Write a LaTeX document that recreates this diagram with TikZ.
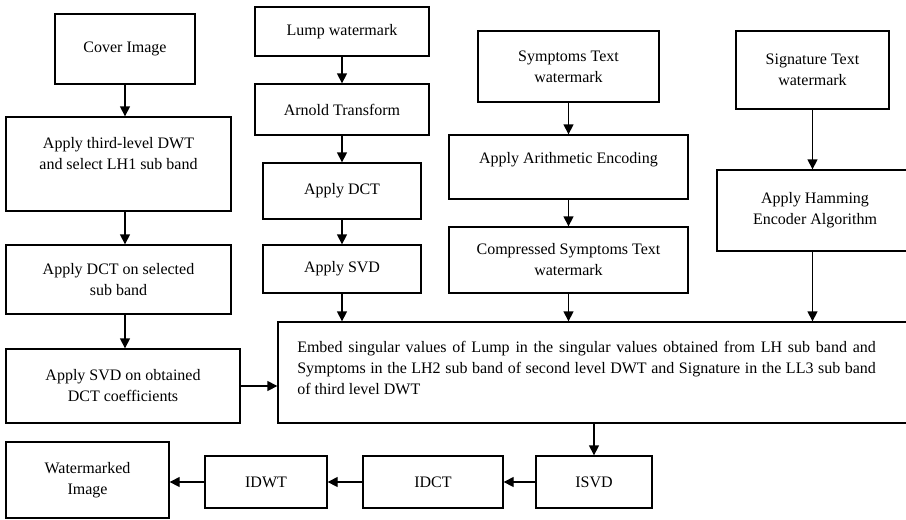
\documentclass[tikz,border=0pt]{standalone}
\usepackage{fontspec}
\setmainfont{Liberation Serif}
\usetikzlibrary{arrows.meta}

\begin{document}
\begin{tikzpicture}[x=0.75pt,y=0.75pt,yscale=-1,xscale=1,
  box/.style={draw, line width=1pt, inner sep=0pt, align=center, font=\fontsize{12}{15.75}\selectfont},
  txt/.style={inner sep=0pt, align=center, font=\fontsize{12}{15.75}\selectfont},
  arr/.style={line width=1pt, -{Triangle[length=7.5pt,width=7.5pt]}}]

\clip (0,0) rectangle (906,519);

% cover image column
\node[box, minimum width=105pt, minimum height=52.5pt] (cover) at (125,49) {Cover Image};
\node[box, minimum width=168.75pt, minimum height=70.5pt] (dwt) at (118.5,164) {};
\node[txt] (dwt-t) at (118.5,154) {Apply third-level DWT\\and select LH1 sub band};
\node[box, minimum width=168.75pt, minimum height=51.75pt] (dctsel) at (118.5,279.5) {Apply DCT on selected\\sub band};
\node[box, minimum width=175.5pt, minimum height=55.5pt] (svdobt) at (123,386) {Apply SVD on obtained\\DCT coefficients};

% lump watermark column
\node[box, minimum width=130.5pt, minimum height=36.75pt] (lump) at (342,31.5) {Lump watermark};
\node[box, minimum width=130.5pt, minimum height=38.25pt] (arnold) at (342,109.5) {Arnold Transform};
\node[box, minimum width=118.5pt, minimum height=42pt] (dct) at (342,191) {Apply DCT};
\node[box, minimum width=118.5pt, minimum height=36pt] (svd) at (342,269) {Apply SVD};

% symptoms column
\node[box, minimum width=135.75pt, minimum height=53.25pt] (symp) at (568.5,66.5) {Symptoms Text\\watermark};
\node[box, minimum width=179.25pt, minimum height=48pt] (arith) at (568.5,167) {};
\node[txt] (arith-t) at (568.5,160) {Apply Arithmetic Encoding};
\node[box, minimum width=179.25pt, minimum height=49.5pt] (comp) at (568.5,260) {Compressed Symptoms Text\\watermark};

% signature column
\node[box, minimum width=114.75pt, minimum height=58.5pt] (sig) at (812.5,70) {Signature Text\\watermark};
\node[box, minimum width=147pt, minimum height=60.75pt] (ham) at (815,210.5) {Apply Hamming\\Encoder Algorithm};

% embedding
\node[box, minimum width=477.75pt, minimum height=75.75pt] (embed) at (596.5,372.5) {};
\node[txt, anchor=base west, text width=434pt, align=justify] (embed-t) at (297,352) {Embed singular values of Lump in the singular values obtained from LH sub band and\linebreak Symptoms in the LH2 sub band of second level DWT and Signature in the LL3 sub band\linebreak of third level DWT};

% inverse chain
\node[box, minimum width=87pt, minimum height=39pt] (isvd) at (594,482) {ISVD};
\node[box, minimum width=105pt, minimum height=39pt] (idct) at (433,482) {IDCT};
\node[box, minimum width=91.5pt, minimum height=39pt] (idwt) at (266,482) {IDWT};
\node[box, minimum width=122.25pt, minimum height=57pt] (wm) at (87.5,480) {Watermarked\\Image};

\draw[arr] (cover.south) -- (cover.south |- dwt.north);
\draw[arr] (dwt.south -| cover.south) -- (cover.south |- dctsel.north);
\draw[arr] (dctsel.south -| cover.south) -- (cover.south |- svdobt.north);
\draw[arr] (svdobt.east) -- (svdobt.east -| embed.west);

\draw[arr] (lump.south) -- (arnold.north);
\draw[arr] (arnold.south) -- (dct.north);
\draw[arr] (dct.south) -- (svd.north);
\draw[arr] (svd.south) -- (svd.south |- embed.north);

\draw[arr] (symp.south) -- (arith.north);
\draw[arr] (arith.south) -- (comp.north);
\draw[arr] (comp.south) -- (comp.south |- embed.north);

\draw[arr] (sig.south) -- (sig.south |- ham.north);
\draw[arr] (ham.south -| sig.south) -- (sig.south |- embed.north);

\draw[arr] (isvd.north |- embed.south) -- (isvd.north);
\draw[arr] (isvd.west) -- (idct.east);
\draw[arr] (idct.west) -- (idwt.east);
\draw[arr] (idwt.west) -- (idwt.west -| wm.east);

\end{tikzpicture}
\end{document}
